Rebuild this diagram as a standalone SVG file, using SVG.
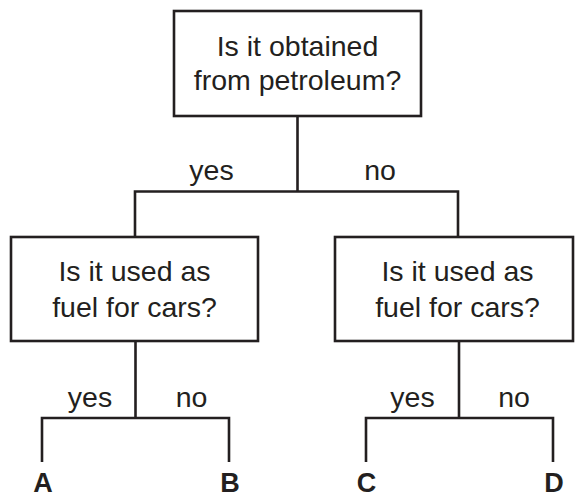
<svg xmlns="http://www.w3.org/2000/svg" width="575" height="499" viewBox="0 0 575 499">
<style>
.box{fill:#fff;stroke:#231f20;stroke-width:2.6}
.ln{fill:none;stroke:#231f20;stroke-width:2.6;stroke-linecap:butt;stroke-linejoin:miter}
.t{font-family:"Liberation Sans",Arial,sans-serif;font-size:28.5px;fill:#231f20;text-anchor:middle}
.b{font-family:"Liberation Sans",Arial,sans-serif;font-size:27px;font-weight:bold;fill:#231f20;text-anchor:middle}
</style>
<rect width="575" height="499" fill="#fff"/>
<g id="connectors">
<path class="ln" d="M297.5 116V191.5M135 237V191.5H458V237"/>
<path class="ln" d="M135.5 341V418M42 462V418H229V462"/>
<path class="ln" d="M459 341V418M366 462V418H553V462"/>
<text class="t" x="211.5" y="180">yes</text>
<text class="t" x="380" y="180">no</text>
<text class="t" x="90" y="407">yes</text>
<text class="t" x="191.5" y="407">no</text>
<text class="t" x="412.5" y="407">yes</text>
<text class="t" x="514" y="407">no</text>
</g>
<g id="root">
<rect class="box" x="174" y="11" width="247" height="105"/>
<text class="t" x="297.5" y="56">Is it obtained</text>
<text class="t" x="297.5" y="89.5">from petroleum?</text>
</g>
<g id="left">
<rect class="box" x="11" y="237" width="247" height="104"/>
<text class="t" x="134.5" y="280.5">Is it used as</text>
<text class="t" x="134.5" y="316.5">fuel for cars?</text>
</g>
<g id="right">
<rect class="box" x="335" y="237" width="238" height="104"/>
<text class="t" x="457.5" y="280.5">Is it used as</text>
<text class="t" x="457.5" y="316.5">fuel for cars?</text>
</g>
<g id="leafA"><text class="b" x="43" y="492">A</text></g>
<g id="leafB"><text class="b" x="230" y="492">B</text></g>
<g id="leafC"><text class="b" x="366.5" y="492">C</text></g>
<g id="leafD"><text class="b" x="554" y="492">D</text></g>
</svg>
